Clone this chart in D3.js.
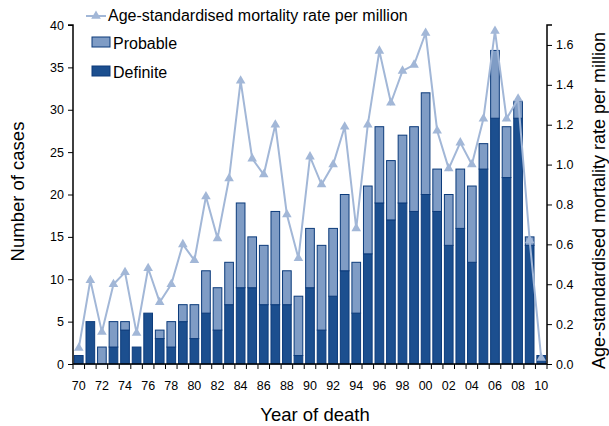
<!DOCTYPE html>
<html lang="en">
<head>
  <meta charset="UTF-8">
  <title>cases chart</title>
  <script src="https://d3js.org/d3.v7.min.js"></script>
  <style>
    body { margin: 0; background: #fff; }
    text { font-family: "Liberation Sans", Arial, sans-serif; }
  </style>
</head>
<body>
  <svg id="chart" width="609" height="426"></svg>
  <script>
    // data
    const years = d3.range(1970, 2011);
    const definite = [1, 5, 0, 2, 4, 2, 6, 3, 2, 5, 3, 6, 4, 7, 9, 9, 7, 7, 7, 1,
      9, 4, 8, 11, 6, 13, 19, 17, 19, 18, 20, 18, 14, 16, 12, 23, 29, 22, 29, 14, 1];
    const probable = [0, 0, 2, 3, 1, 0, 0, 1, 3, 2, 4, 5, 5, 5, 10, 6, 7, 11, 4, 7,
      7, 10, 8, 9, 6, 8, 9, 7, 8, 10, 12, 5, 6, 7, 9, 3, 8, 6, 2, 1, 0];
    const rate = [0.08, 0.42, 0.16, 0.40, 0.46, 0.155, 0.48, 0.31, 0.40, 0.60, 0.52, 0.84, 0.63, 0.93,
      1.42, 1.03, 0.95, 1.20, 0.75, 0.53, 1.04, 0.90, 1.00, 1.19, 0.68, 1.20, 1.57, 1.31,
      1.47, 1.50, 1.66, 1.17, 0.98, 1.11, 1.00, 1.23, 1.67, 1.23, 1.33, 0.62, 0.03];
    const leftTicks = [0, 5, 10, 15, 20, 25, 30, 35, 40];
    const rightTicks = [0, 0.2, 0.4, 0.6, 0.8, 1.0, 1.2, 1.4, 1.6];

    const svg = d3.select('svg#chart');
    const margins = { top: 25, right: 62, bottom: 62, left: 73 };
    const chartWidth = 609 - margins.left - margins.right;
    const chartHeight = 426 - margins.top - margins.bottom;
    const chartArea = svg.append('g')
      .attr('transform', `translate(${margins.left},${margins.top})`);

    const x = d3.scaleBand().domain(years).range([0, chartWidth]).paddingInner(0.25).paddingOuter(0.125);
    const yLeft = d3.scaleLinear().domain([0, 40]).range([chartHeight, 0]);
    const yRight = d3.scaleLinear().domain([0, 1.7]).range([chartHeight, 0]);
    const step = x.step();

    const darkFill = '#1c4f8f', darkEdge = '#0c3b7b', lightFill = '#7f9cc5', lineCol = '#a2b7d7';

    // stacked bars
    years.forEach((yr, i) => {
      if (definite[i] > 0) {
        chartArea.append('rect')
          .attr('x', x(yr)).attr('width', x.bandwidth())
          .attr('y', yLeft(definite[i])).attr('height', yLeft(0) - yLeft(definite[i]))
          .attr('fill', darkFill).attr('stroke', darkEdge).attr('stroke-width', 1);
      }
      if (probable[i] > 0) {
        const top = definite[i] + probable[i];
        chartArea.append('rect')
          .attr('x', x(yr)).attr('width', x.bandwidth())
          .attr('y', yLeft(top)).attr('height', yLeft(definite[i]) - yLeft(top))
          .attr('fill', lightFill).attr('stroke', darkEdge).attr('stroke-width', 1);
      }
    });

    // rate line
    const line = d3.line()
      .x((d, i) => x(years[i]) + x.bandwidth() / 2)
      .y(d => yRight(d));
    chartArea.append('path')
      .datum(rate)
      .attr('d', line)
      .attr('fill', 'none')
      .attr('stroke', lineCol)
      .attr('stroke-width', 2);
    const tri = d3.symbol().type(d3.symbolTriangle).size(40);
    rate.forEach((d, i) => {
      chartArea.append('path')
        .attr('d', tri())
        .attr('transform', `translate(${x(years[i]) + x.bandwidth() / 2},${yRight(d)})`)
        .attr('fill', lineCol);
    });

    // axes
    const leftAxis = d3.axisLeft(yLeft).tickValues(leftTicks).tickSize(5).tickPadding(4);
    const gl = chartArea.append('g').call(leftAxis);
    const rightAxis = d3.axisRight(yRight).tickValues(rightTicks).tickSize(5).tickPadding(4)
      .tickFormat(d3.format('.1f'));
    const gr = chartArea.append('g').attr('transform', `translate(${chartWidth},0)`).call(rightAxis);

    const gx = chartArea.append('g').attr('transform', `translate(0,${chartHeight})`);
    gx.append('line').attr('x1', 0).attr('x2', chartWidth).attr('y1', 0).attr('y2', 0)
      .attr('stroke', '#000').attr('stroke-width', 1.5);
    d3.range(years.length + 1).forEach(i => {
      gx.append('line').attr('x1', i * step).attr('x2', i * step).attr('y1', 0).attr('y2', 5)
        .attr('stroke', '#000');
    });
    years.filter(yr => yr % 2 === 0).forEach(yr => {
      gx.append('text')
        .attr('x', x(yr) + x.bandwidth() / 2)
        .attr('y', 26)
        .attr('text-anchor', 'middle')
        .attr('font-size', 12.5)
        .text(String(yr).slice(2));
    });

    [gl, gr].forEach(g => {
      g.select('.domain').attr('stroke-width', 1.5);
      g.selectAll('.tick text').attr('font-size', 12.5).attr('fill', '#000');
      g.style('font-family', '"Liberation Sans", Arial, sans-serif');
    });
    gl.select('.domain').attr('d', `M0,${chartHeight}V0H-5`);
    gr.select('.domain').attr('d', `M0,${chartHeight}V0H5`);

    // axis titles
    svg.append('text')
      .attr('transform', `translate(24,${margins.top + chartHeight / 2 - 3}) rotate(-90)`)
      .attr('text-anchor', 'middle').attr('font-size', 18.5).text('Number of cases');
    svg.append('text')
      .attr('transform', `translate(605,${margins.top + chartHeight / 2 + 6}) rotate(-90)`)
      .attr('text-anchor', 'middle').attr('font-size', 18)
      .text('Age-standardised mortality rate per million');
    svg.append('text')
      .attr('x', 315).attr('y', 421)
      .attr('text-anchor', 'middle').attr('font-size', 18.5).text('Year of death');

    // legend
    const lg = svg.append('g');
    lg.append('line').attr('x1', 86).attr('x2', 106).attr('y1', 16).attr('y2', 16)
      .attr('stroke', lineCol).attr('stroke-width', 2);
    lg.append('path').attr('d', tri()).attr('transform', 'translate(96,16)').attr('fill', lineCol);
    lg.append('text').attr('x', 108).attr('y', 21).attr('font-size', 16)
      .text('Age-standardised mortality rate per million');
    lg.append('rect').attr('x', 92).attr('y', 37).attr('width', 18).attr('height', 10)
      .attr('fill', lightFill).attr('stroke', darkEdge);
    lg.append('text').attr('x', 113).attr('y', 49).attr('font-size', 16).text('Probable');
    lg.append('rect').attr('x', 92).attr('y', 66).attr('width', 18).attr('height', 10)
      .attr('fill', darkFill).attr('stroke', darkEdge);
    lg.append('text').attr('x', 113).attr('y', 78).attr('font-size', 16).text('Definite');
  </script>
</body>
</html>
